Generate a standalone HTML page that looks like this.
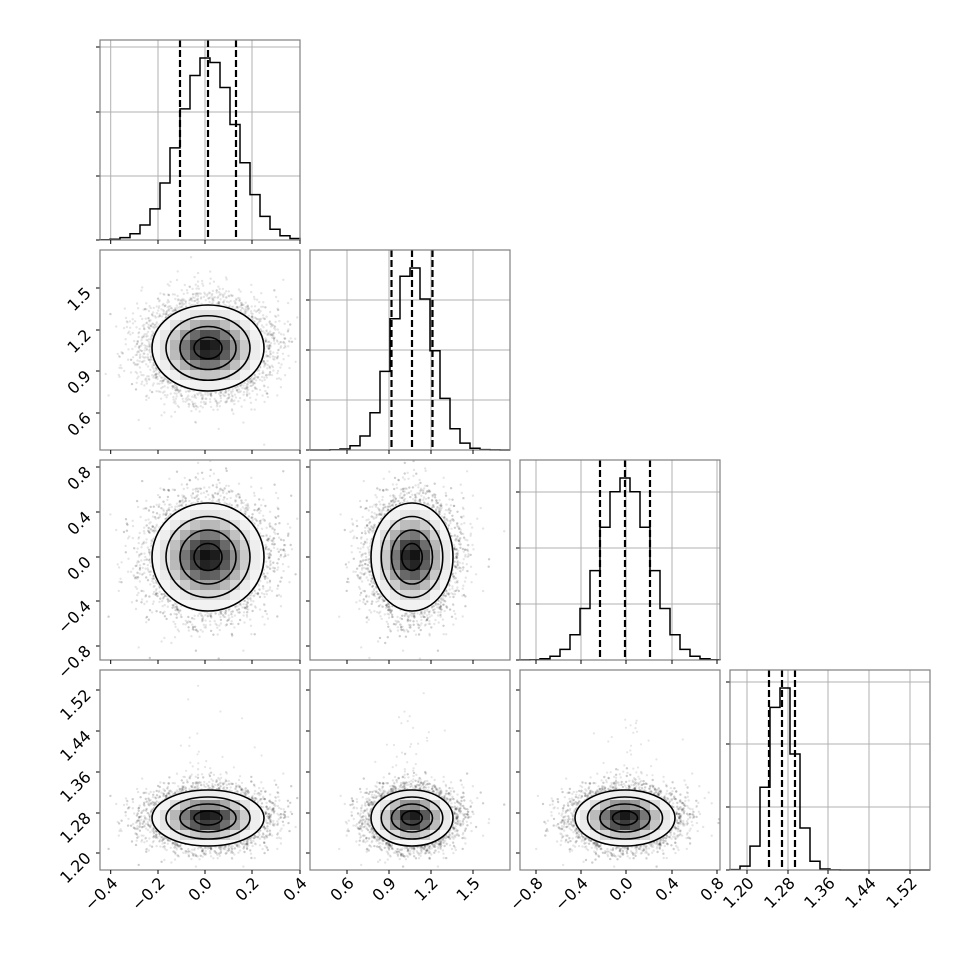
<!DOCTYPE html>
<html><head><meta charset="utf-8"><style>
html,body{margin:0;padding:0;background:#fff;}
svg{display:block;}
text{font-family:"DejaVu Sans","Liberation Sans",sans-serif;font-size:16px;fill:#000;}
</style></head><body>
<svg id="s" width="970" height="970" viewBox="0 0 970 970" xmlns="http://www.w3.org/2000/svg"></svg>
<script>
const S=document.getElementById('s');const NS='http://www.w3.org/2000/svg';
function el(t,a,p){const e=document.createElementNS(NS,t);for(const k in a)e.setAttribute(k,a[k]);(p||S).appendChild(e);return e;}
let seed=12345;function rnd(){seed=(seed*1103515245+12345)%2147483648;return seed/2147483648;}
function gauss(){let u=rnd()||1e-9,v=rnd();return Math.sqrt(-2*Math.log(u))*Math.cos(2*Math.PI*v);}
function erf(x){const s=Math.sign(x);x=Math.abs(x);const t=1/(1+0.3275911*x);const y=1-(((((1.061405429*t-1.453152027)*t)+1.421413741)*t-0.284496736)*t+0.254829592)*t*Math.exp(-x*x);return s*y;}
function cdf(x){return 0.5*(1+erf(x/Math.SQRT2));}
const mx=[208,412,625,782],sx=[28,20.5,25,13];
const my=[0,348,557,818],sy=[0,21.5,27,14];
const xt=[[[-0.4,110.7],[-0.2,158],[0,205],[0.2,252],[0.4,300]],
[[0.6,347],[0.9,389],[1.2,431],[1.5,473]],
[[-0.8,536],[-0.4,581],[0,626],[0.4,672],[0.8,717]],
[[1.20,747],[1.28,788],[1.36,828],[1.44,869],[1.52,910]]];
const xl=[["−0.4","−0.2","0.0","0.2","0.4"],["0.6","0.9","1.2","1.5"],["−0.8","−0.4","0.0","0.4","0.8"],["1.20","1.28","1.36","1.44","1.52"]];
const yt=[null,[288,330,371,413],[467,512,557,601,646],[690,731,772,813,853]];
const yl=[null,["1.5","1.2","0.9","0.6"],["0.8","0.4","0.0","−0.4","−0.8"],["1.52","1.44","1.36","1.28","1.20"]];
const hy=[[47,112,176,240],[300,350,400,450],[492,548,604,660],[682,744,807,870]];
let cid=0;
for(let r=0;r<4;r++)for(let c=0;c<=r;c++){
 const L=100+210*c,T=40+210*r,R=L+200,B=T+200;
 const g=el('g',{});
 if(r==c){
  xt[c].forEach(t=>el('line',{x1:t[1],x2:t[1],y1:T,y2:B,stroke:'#b0b0b0','stroke-width':1},g));
  hy[c].forEach(y=>el('line',{x1:L,x2:R,y1:y,y2:y,stroke:'#b0b0b0','stroke-width':1},g));
  const bw=10,m=mx[c],s=sx[c];let hs=[];
  for(let x=L;x<R;x+=bw){hs.push(cdf((x+bw-m)/s)-cdf((x-m)/s));}
  const mxh=Math.max(...hs);let d='M'+L+' '+B;
  hs.forEach((h,i)=>{const y=B-h/mxh*182;d+=' L'+(L+i*bw)+' '+y.toFixed(1)+' L'+(L+(i+1)*bw)+' '+y.toFixed(1);});
  d+=' L'+R+' '+B;
  el('path',{d:d,fill:'none',stroke:'#000','stroke-width':1.5},g);
  [-1,0,1].forEach(k=>el('line',{x1:m+k*s,x2:m+k*s,y1:T,y2:B,stroke:'#000','stroke-width':2.2,'stroke-dasharray':'7,3'},g));
  hy[c].forEach(y=>el('line',{x1:L-4,x2:L,y1:y,y2:y,stroke:'#000'},g));
 } else {
  const cx=mx[c],cy=my[r],ax=sx[c],ay=sy[r];
  const id='c'+(cid++);
  const cp=el('clipPath',{id:id},g);el('rect',{x:L,y:T,width:200,height:200},cp);
  const pg=el('g',{'clip-path':'url(#'+id+')'},g);
  for(let i=0;i<7000;i++){const u=gauss()*1.05,v=gauss()*1.05;if(u*u+v*v<3.8)continue;
   el('circle',{cx:(cx+u*ax).toFixed(1),cy:(cy+v*ay).toFixed(1),r:1.2,fill:'#000','fill-opacity':0.1},pg);}
  if(r==3){for(let i=0;i<40;i++){const u=gauss()*0.7,v=Math.abs(gauss())*3+2;el('circle',{cx:(cx+u*ax).toFixed(1),cy:(cy-v*ay).toFixed(1),r:1.1,fill:'#000','fill-opacity':0.1},pg);}}
  const id2='e'+(cid++);const cp2=el('clipPath',{id:id2},g);
  el('ellipse',{cx:cx,cy:cy,rx:2.05*ax,ry:2.05*ay},cp2);
  const hg=el('g',{'clip-path':'url(#'+id2+')'},g);
  el('ellipse',{cx:cx,cy:cy,rx:2.1*ax,ry:2.1*ay,fill:'#f8f8f8'},hg);
  const cw=10,ch=10;
  for(let x=L;x<R;x+=cw)for(let y=T;y<B;y+=ch){
   const u=(x+cw/2-cx)/ax,v=(y+ch/2-cy)/ay;const q=Math.exp(-(u*u+v*v)/2);
   if(q<0.1)continue;let gv=Math.round(250-235*Math.pow((q-0.1)/0.9,1.5));
   el('rect',{x:x,y:y,width:cw,height:ch,fill:`rgb(${gv},${gv},${gv})`},hg);}
  [0.5,1,1.5,2].forEach(k=>el('ellipse',{cx:cx,cy:cy,rx:k*ax,ry:k*ay,fill:'none',stroke:'#000','stroke-width':1.6},g));
  yt[r].forEach(y=>el('line',{x1:L-4,x2:L,y1:y,y2:y,stroke:'#000'},g));
 }
 el('rect',{x:L,y:T,width:200,height:200,fill:'none',stroke:'#808080','stroke-width':1.2},g);
 xt[c].forEach(t=>el('line',{x1:t[1],x2:t[1],y1:B,y2:B+4,stroke:'#000'},g));
 if(r==3)xt[c].forEach((t,i)=>{const tx=el('text',{'text-anchor':'end',transform:`translate(${t[1]+8},${B+14}) rotate(-45)`},g);tx.textContent=xl[c][i];});
 if(c==0&&r>0)yt[r].forEach((y,i)=>{const tx=el('text',{'text-anchor':'end',transform:`translate(${L-8},${y+6}) rotate(-45)`},g);tx.textContent=yl[r][i];});
}
</script>
</body></html>
